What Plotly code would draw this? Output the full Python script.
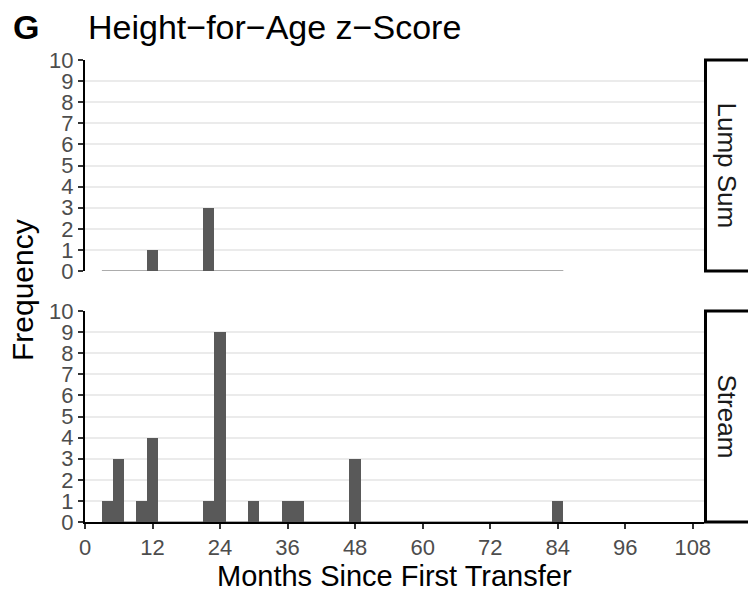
import plotly.graph_objects as go
from plotly.subplots import make_subplots

# Histogram of months since first transfer, 2-month bins, by transfer type
bin_width = 2
panels = ["Lump Sum", "Stream"]

lump_centers = [12, 22]
lump_counts = [1, 3]

stream_centers = [4, 6, 10, 12, 22, 24, 30, 36, 38, 48, 84]
stream_counts = [1, 3, 1, 4, 1, 9, 1, 1, 1, 3, 1]

x_ticks = [0, 12, 24, 36, 48, 60, 72, 84, 96, 108]
y_ticks = list(range(0, 11))

BAR = "#595959"
GRID = "#ebebeb"
TICKTXT = "#4d4d4d"
FONT = "Liberation Sans, Arial, sans-serif"

W, H = 748, 591
L, R, T, B = 85, 44, 60, 69
plot_h = H - T - B
top_dom = [(plot_h - (271 - T)) / plot_h, 1.0]
bot_dom = [0.0, (522 - 311) / plot_h]

# shared bin range across both facets (zero-count bins draw as a flat line)
all_centers = lump_centers + stream_centers
edge_lo = min(all_centers) - bin_width / 2
edge_hi = max(all_centers) + bin_width / 2

fig = make_subplots(rows=2, cols=1, shared_xaxes=True)

for row, (cx, cy) in enumerate([(lump_centers, lump_counts),
                                (stream_centers, stream_counts)], start=1):
    fig.add_trace(go.Scatter(x=[edge_lo, edge_hi], y=[0, 0], mode="lines",
                             line=dict(color=BAR, width=1),
                             hoverinfo="skip", showlegend=False),
                  row=row, col=1)
    fig.add_trace(go.Bar(x=cx, y=cy, width=bin_width,
                         marker=dict(color=BAR, line=dict(width=0)),
                         showlegend=False),
                  row=row, col=1)

yaxis_style = dict(range=[0, 10], tickvals=y_ticks, showgrid=True,
                   gridcolor=GRID, gridwidth=2, zeroline=False,
                   showline=True, linecolor="black", linewidth=2,
                   ticks="outside", ticklen=5, tickwidth=2, tickcolor="#333333",
                   tickfont=dict(family=FONT, size=22, color=TICKTXT),
                   fixedrange=True)

fig.update_yaxes(**yaxis_style)
fig.update_layout(yaxis=dict(domain=top_dom), yaxis2=dict(domain=bot_dom))

fig.update_xaxes(range=[0, 110], tickvals=x_ticks, showgrid=False, zeroline=False)
fig.update_xaxes(showline=False, ticks="", showticklabels=False, row=1, col=1)
fig.update_xaxes(showline=True, linecolor="black", linewidth=2,
                 ticks="outside", ticklen=5, tickwidth=2, tickcolor="#333333",
                 showticklabels=True,
                 tickfont=dict(family=FONT, size=22, color=TICKTXT),
                 row=2, col=1)

def px_y(y):
    return (H - B - y) / plot_h

def px_x(x):
    return (x - L) / (W - L - R)

shapes = []
annotations = []
for name, axis in zip(panels, ["y", "y2"]):
    shapes.append(dict(type="rect", xref="paper", yref=f"{axis} domain",
                       x0=px_x(705.5), x1=px_x(760), y0=0, y1=1,
                       line=dict(color="black", width=3), fillcolor="white",
                       layer="above"))
    annotations.append(dict(text=name, xref="paper", yref=f"{axis} domain",
                            x=px_x(727), y=0.5, showarrow=False,
                            textangle=90, xanchor="center", yanchor="middle",
                            font=dict(family=FONT, size=26, color="#1a1a1a")))

annotations += [
    dict(text="<b>G</b>", xref="paper", yref="paper", x=px_x(11), y=px_y(27),
         xanchor="left", yanchor="middle", showarrow=False,
         font=dict(family=FONT, size=34, color="black")),
    dict(text="Height\u2212for\u2212Age z\u2212Score", xref="paper", yref="paper",
         x=px_x(86), y=px_y(27), xanchor="left", yanchor="middle",
         showarrow=False, font=dict(family=FONT, size=34, color="black")),
    dict(text="Months Since First Transfer", xref="paper", yref="paper",
         x=0.5, y=px_y(576), xanchor="center", yanchor="middle",
         showarrow=False, font=dict(family=FONT, size=29, color="black")),
    dict(text="Frequency", xref="paper", yref="paper",
         x=px_x(22), y=px_y(290), xanchor="center", yanchor="middle",
         textangle=-90, showarrow=False,
         font=dict(family=FONT, size=30, color="black")),
]

fig.update_layout(width=W, height=H,
                  margin=dict(l=L, r=R, t=T, b=B),
                  plot_bgcolor="white", paper_bgcolor="white",
                  shapes=shapes, annotations=annotations,
                  bargap=0, font=dict(family=FONT))

fig.write_html("out.html")
